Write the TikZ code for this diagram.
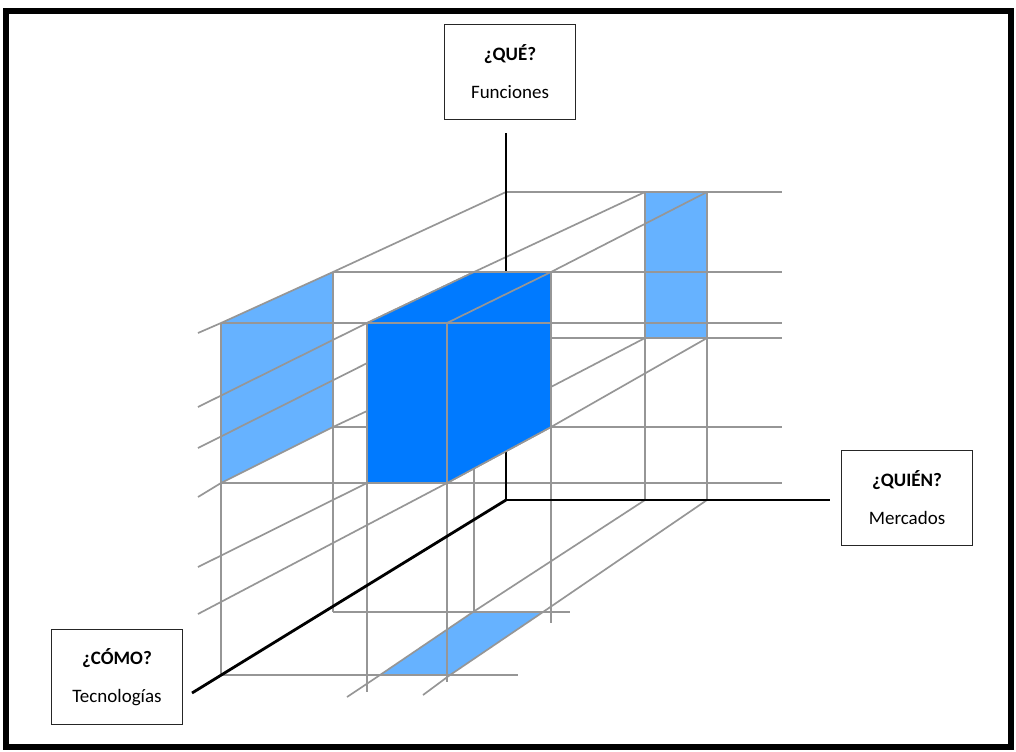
\documentclass[tikz,border=0pt]{standalone}
\usepackage{fontspec}
\setmainfont{Carlito}
\definecolor{cubeblue}{RGB}{0,122,255}
\definecolor{shadeblue}{RGB}{102,178,255}
\definecolor{gridgray}{RGB}{150,150,150}
\tikzset{
  gridline/.style={draw=gridgray, line width=1.2pt},
  axisline/.style={draw=black, line width=2pt},
  labelbox/.style={draw=black!85, line width=1.1pt, fill=white, align=center,
    minimum width=3.28cm, minimum height=2.38cm, font=\fontsize{13.5}{27}\selectfont},
}
\begin{document}
\begin{tikzpicture}[x=0.025cm, y=-0.025cm]
\useasboundingbox (0,0) rectangle (1016,751);
\draw[line width=4.3pt] (6,11) rectangle (1011,747);

% origin and axis ends
\coordinate (O) at (506,500);
\coordinate (qend) at (506,133);
\coordinate (wend) at (830,500);
\coordinate (cend) at (192,693);

% cube corners
\coordinate (ftl) at (367,323);
\coordinate (ftr) at (447,323);
\coordinate (fbl) at (367,483);
\coordinate (fbr) at (447,483);
\coordinate (btl) at (474,272);
\coordinate (btr) at (551,272);
\coordinate (bbl) at (474,427);
\coordinate (bbr) at (551,427);

% shadows on the walls and the floor
\coordinate (la) at (221,323);
\coordinate (lb) at (333,272);
\coordinate (lc) at (333,427);
\coordinate (ld) at (221,483);
\coordinate (ra) at (645,192);
\coordinate (rb) at (707,192);
\coordinate (rc) at (707,338);
\coordinate (rd) at (645,338);
\coordinate (fa) at (380,675);
\coordinate (fb) at (450,675);
\coordinate (fc) at (543,612);
\coordinate (fd) at (473,612);

\fill[shadeblue] (la) -- (lb) -- (lc) -- (ld) -- cycle;
\fill[shadeblue] (ra) -- (rb) -- (rc) -- (rd) -- cycle;
\fill[shadeblue] (fa) -- (fb) -- (fc) -- (fd) -- cycle;

% horizontal lines
\draw[gridline] (506,192) -- (782,192);
\draw[gridline] (lb) -- (782,272);
\draw[gridline] (la) -- (782,323);
\draw[gridline] (bbr |- rc) -- (782,338);
\draw[gridline] (lc) -- (782,427);
\draw[gridline] (ld) -- (782,483);
\draw[gridline] (lc |- fd) -- (570,612);
\draw[gridline] (la |- fa) -- (518,675);

% vertical lines
\draw[gridline] (la) -- (221,675);
\draw[gridline] (lb) -- (333,612);
\draw[gridline] (ftl) -- (367,692);
\draw[gridline] (ftr) -- (447,682);
\draw[gridline] (btl) -- (474,612);
\draw[gridline] (btr) -- (551,623);
\draw[gridline] (ra) -- (645,500);
\draw[gridline] (rb) -- (707,500);

% depth lines
\draw[gridline] (198,333) -- (la) -- (lb) -- (506,192);
\draw[gridline] (198,407) -- (ftl) -- (btl) -- (ra);
\draw[gridline] (198,448) -- (ftr) -- (btr) -- (rb);
\draw[gridline] (198,497) -- (ld) -- (lc) -- (367,411);
\draw[gridline] (198,567) -- (fbl) -- (bbl) -- (rd);
\draw[gridline] (198,614) -- (fbr) -- (bbr) -- (rc);
\draw[gridline] (347,697) -- (fa) -- (fd) -- (645,500);
\draw[gridline] (423,695) -- (fb) -- (fc) -- (707,500);

% axes
\draw[axisline] (O) -- (qend);
\draw[axisline] (O) -- (wend);
\draw[axisline] (O) -- (cend);

% cube
\fill[cubeblue] (ftl) -- (btl) -- (btr) -- (bbr) -- (fbr) -- (fbl) -- cycle;
\draw[gridline] (ftl) -- (btl) -- (btr) -- (bbr) -- (fbr) -- (fbl) -- cycle;
\draw[gridline] (ftl) -- (btr |- ftl);
\draw[gridline] (ftr) -- (fbr);
\draw[gridline] (ftr) -- (btr);

% labels
\node[labelbox] (que) at (510,72) {\textbf{¿QUÉ?}\\Funciones};
\node[labelbox] (quien) at (907,498) {\textbf{¿QUIÉN?}\\Mercados};
\node[labelbox] (como) at (117,677) {\textbf{¿CÓMO?}\\Tecnologías};
\end{tikzpicture}
\end{document}
